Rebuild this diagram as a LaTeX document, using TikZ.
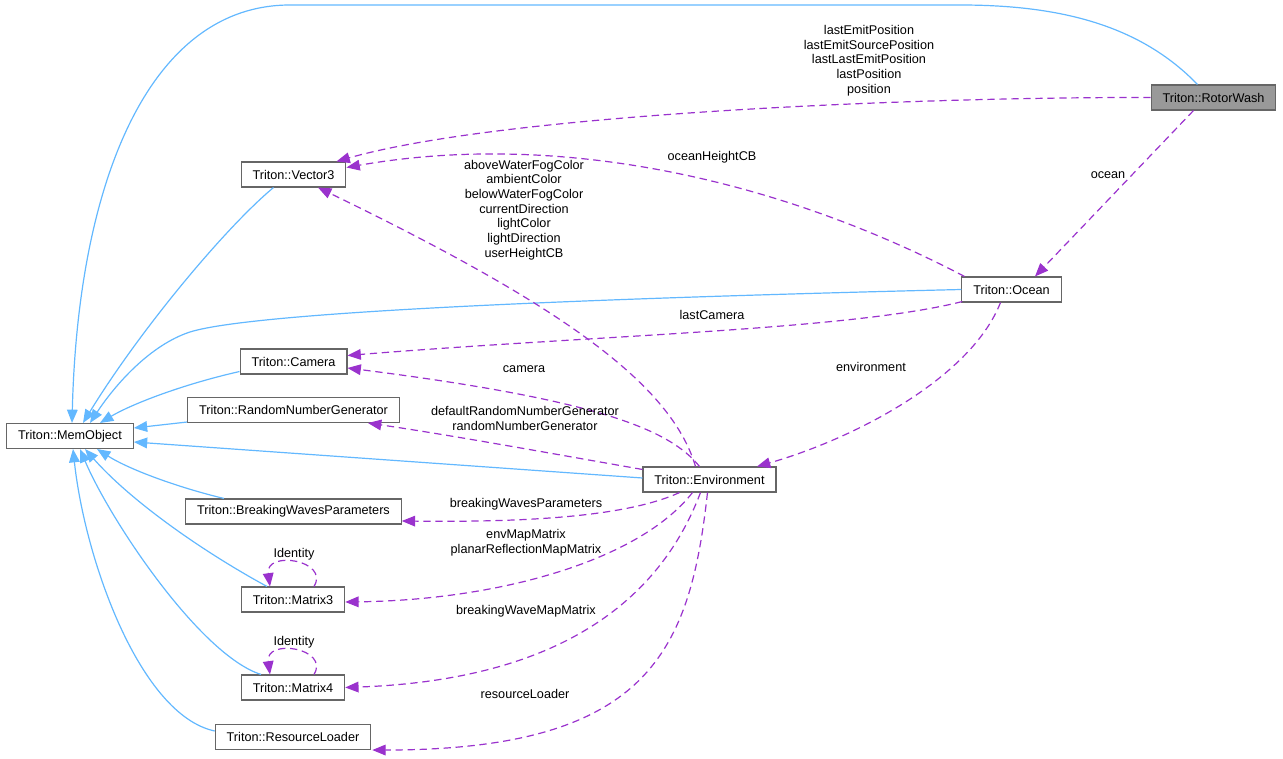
\documentclass[tikz,border=0pt]{standalone}
\usepackage{fontspec}
\setmainfont{Liberation Sans}
\usetikzlibrary{arrows.meta,calc}
\definecolor{inhblue}{HTML}{63B8FF}
\definecolor{usepurple}{HTML}{9A32CD}
\definecolor{boxgray}{HTML}{666666}
\definecolor{curfill}{HTML}{999999}
\tikzset{
  cls/.style={draw=boxgray,line width=0.8pt,fill=white,minimum height=18.75pt,inner xsep=8.6pt,inner ysep=0pt,font=\fontsize{9.5}{11}\selectfont},
  curcls/.style={cls,fill=curfill},
  inh/.style={draw=inhblue,line width=0.9pt,-{Triangle[length=10pt,width=8pt]}},
  usage/.style={draw=usepurple,line width=0.9pt,dash pattern=on 5.5pt off 3.5pt,-{Triangle[length=10pt,width=8pt]}},
  lbl/.style={inner sep=0pt,align=center,font=\fontsize{9.5}{11}\selectfont}
}
\begin{document}
\begin{tikzpicture}[x=0.75pt,y=-0.75pt]
\useasboundingbox (0,0) rectangle (1283,759);
% nodes
\node[cls] (mem) at (70,436) {Triton::MemObject};
\node[cls] (vec) at (293.5,174.5) {Triton::Vector3};
\node[cls] (cam) at (293.5,361.5) {Triton::Camera};
\node[cls] (rng) at (293.5,410) {Triton::RandomNumberGenerator};
\node[cls] (bwp) at (293.5,511.5) {Triton::BreakingWavesParameters};
\node[cls] (m3) at (293,599.5) {Triton::Matrix3};
\node[cls] (m4) at (293,687.5) {Triton::Matrix4};
\node[cls] (rl) at (293,737) {Triton::ResourceLoader};
\node[cls] (env) at (709.5,479.5) {Triton::Environment};
\node[cls] (ocean) at (1011.5,289.5) {Triton::Ocean};
\node[curcls] (rw) at (1213.5,97.5) {Triton::RotorWash};

% inheritance edges
\draw[inh] ($(rw.north)+(-16,0)$) .. controls (1140,25) and (1060,5) .. (960,5) -- (290,5) .. controls (150,5) and (78,180) .. ($(mem.north)+(2,0)$);
\draw[inh] ($(vec.south)+(-20,0)$) .. controls (225,228) and (140,330) .. ($(mem.north)+(13,0)$);
\draw[inh] (ocean.west) .. controls (650,297) and (260,310) .. (190,332) .. controls (150,345) and (115,385) .. ($(mem.north)+(20,0)$);
\draw[inh] ($(cam.south west)+(0,-3)$) .. controls (180,385) and (130,405) .. ($(mem.north)+(30,0)$);
\draw[inh] ($(rng.south west)+(0,-1)$) -- ($(mem.east)+(0,-8)$);
\draw[inh] ($(env.west)+(0,-1.5)$) -- ($(mem.east)+(0,6)$);
\draw[inh] ($(bwp.north)+(-69.5,0)$) .. controls (180,488) and (130,470) .. ($(mem.south)+(27,0)$);
\draw[inh] ($(m3.north)+(-26,0)$) .. controls (200,550) and (130,500) .. ($(mem.south)+(15,0)$);
\draw[inh] ($(m4.north)+(-32,0)$) .. controls (200,655) and (110,520) .. ($(mem.south)+(10,0)$);
\draw[inh] ($(rl.west)+(0,-6)$) .. controls (140,715) and (85,560) .. ($(mem.south)+(3,0)$);

% usage edges
\draw[usage] (rw.west) .. controls (900,97) and (500,115) .. ($(vec.north east)+(-10,0)$);
\node[lbl] (l1) at (869,60.5) {lastEmitPosition\\lastEmitSourcePosition\\lastLastEmitPosition\\lastPosition\\position};

\draw[usage] ($(ocean.north)+(-47,0)$) .. controls (780,180) and (560,130) .. ($(vec.east)+(0,-7)$);
\node[lbl] (l2) at (712,157) {oceanHeightCB};

\draw[usage] ($(env.north)+(-14,0)$) .. controls (670,380) and (550,300) .. ($(vec.south)+(24.5,0)$);
\node[lbl] (l3) at (524,210) {aboveWaterFogColor\\ambientColor\\belowWaterFogColor\\currentDirection\\lightColor\\lightDirection\\userHeightCB};

\draw[usage] ($(rw.south)+(-20,0)$) -- ($(ocean.north)+(23.5,0)$);
\node[lbl] (l4) at (1108,175) {ocean};

\draw[usage] ($(ocean.south west)+(1,-1)$) .. controls (850,330) and (600,335) .. ($(cam.east)+(0,-6)$);
\node[lbl] (l5) at (712,315) {lastCamera};

\draw[usage] ($(ocean.south)+(-11,0)$) .. controls (970,380) and (850,440) .. ($(env.north)+(47.5,0)$);
\node[lbl] (l6) at (871,367) {environment};

\draw[usage] ($(env.north)+(-10,0)$) .. controls (670,430) and (600,400) .. ($(cam.east)+(0,6.5)$);
\node[lbl] (l7) at (524,369) {camera};

\draw[usage] ($(env.north west)+(0,3)$) .. controls (560,455) and (450,435) .. ($(rng.south east)+(-32,0)$);
\node[lbl] (l8) at (525,418.5) {defaultRandomNumberGenerator\\randomNumberGenerator};

\draw[usage] ($(env.south)+(-30,0)$) .. controls (620,520) and (500,522) .. ($(bwp.east)+(0,9.5)$);
\node[lbl] (l9) at (526,504) {breakingWavesParameters};

\draw[usage] ($(env.south)+(-17,0)$) .. controls (640,560) and (500,600) .. ($(m3.east)+(0,2.5)$);
\node[lbl] (l10) at (526,542.5) {envMapMatrix\\planarReflectionMapMatrix};

\draw[usage] ($(env.south)+(-9,0)$) .. controls (660,600) and (560,680) .. (m4.east);
\node[lbl] (l11) at (526,611) {breakingWaveMapMatrix};

\draw[usage] ($(env.south)+(-2,0)$) .. controls (690,650) and (650,750) .. ($(rl.south east)+(1,0)$);
\node[lbl] (l12) at (525,694) {resourceLoader};

% self loops
\draw[usage] ($(m3.north)+(21,0)$) .. controls (330,560) and (265,550) .. ($(m3.north)+(-23,0)$);
\node[lbl] (l13) at (294,554) {Identity};
\draw[usage] ($(m4.north)+(21,0)$) .. controls (330,648) and (265,638) .. ($(m4.north)+(-23,0)$);
\node[lbl] (l14) at (294,642) {Identity};
\end{tikzpicture}
\end{document}
